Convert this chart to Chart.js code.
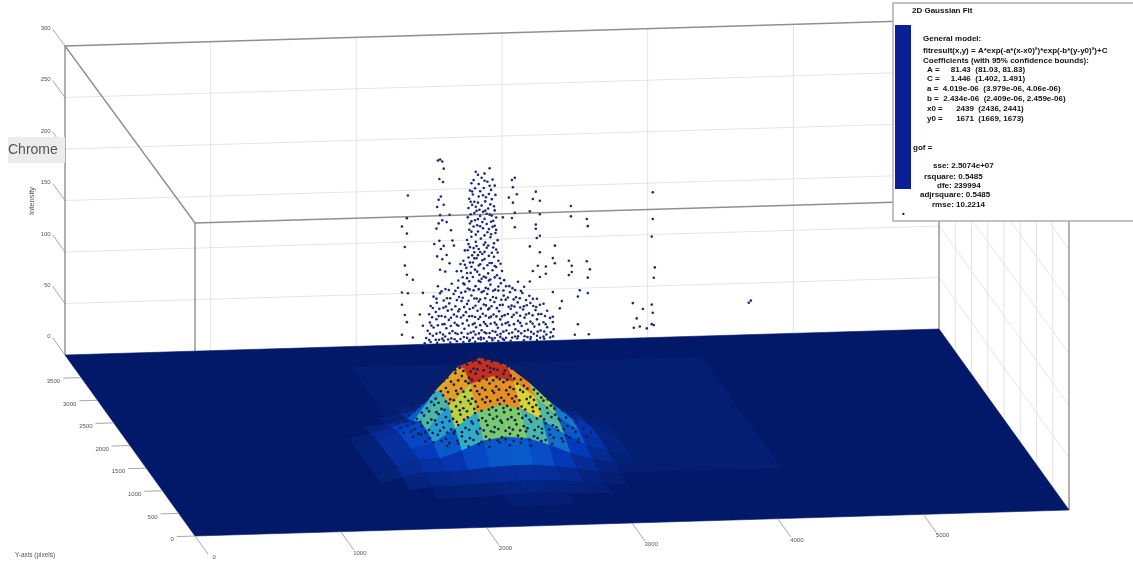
<!DOCTYPE html>
<html>
<head>
<meta charset="utf-8">
<title>2D Gaussian Fit</title>
<script src="https://cdn.jsdelivr.net/npm/chart.js@4"></script>
<style>
    html, body { margin: 0; padding: 0; background: #fff; }
    canvas { display: block; filter: blur(0.6px); }
</style>
</head>
<body>
<canvas id="myChart" width="1133" height="565"></canvas>
<script>
const xTicks = [0, 1000, 2000, 3000, 4000, 5000];
const yTicks = [0, 500, 1000, 1500, 2000, 2500, 3000, 3500];
const zTicks = [0, 50, 100, 150, 200, 250, 300];
const xMax = 6000;
const yMax = 4000;
const zMax = 300;

// raised plate under the fit, [xFrom, xTo, yFrom, yTo]
const plate = [1860, 4270, 1100, 3550];

// fitted surface, rows run from back to front
const surfaceX = [1350, 1500, 1650, 1800, 1950, 2100, 2250, 2400, 2550, 2700, 2850, 3000, 3150, 3300, 3450];
const surfaceY = [3200, 3000, 2800, 2600, 2400, 2200, 2000, 1800, 1600, 1400, 1200, 1000, 800, 600, 400];
const surfaceZ = [
    [1, 1, 1, 1, 1, 1, 1, 1, 1, 1, 1, 1, 1, 1, 1],
    [1, 1, 1, 1, 1, 1, 2, 2, 2, 2, 1, 1, 1, 1, 1],
    [1, 1, 1, 1, 1, 2, 3, 3, 3, 3, 2, 2, 1, 1, 1],
    [1, 1, 1, 1, 2, 4, 7, 9, 9, 7, 4, 3, 2, 1, 1],
    [1, 1, 1, 2, 4, 11, 22, 27, 26, 18, 11, 6, 3, 1, 1],
    [1, 1, 2, 4, 9, 27, 46, 52, 50, 36, 22, 11, 5, 2, 1],
    [1, 1, 5, 10, 16, 44, 66, 74, 68, 52, 33, 17, 7, 3, 1],
    [1, 1, 7, 14, 24, 52, 74, 81, 74, 57, 37, 20, 9, 3, 1],
    [1, 1, 8, 15, 24, 47, 67, 74, 68, 52, 33, 18, 9, 4, 2],
    [1, 1, 8, 15, 20, 34, 49, 55, 51, 39, 25, 14, 7, 3, 2],
    [1, 1, 8, 14, 14, 21, 30, 33, 31, 24, 15, 9, 5, 2, 1],
    [1, 1, 6, 10, 10, 11, 13, 14, 14, 12, 9, 5, 3, 2, 1],
    [1, 1, 3, 5, 5, 6, 7, 8, 8, 7, 5, 3, 2, 1, 1],
    [1, 1, 1, 2, 3, 3, 4, 5, 5, 4, 3, 3, 2, 1, 1],
    [1, 1, 1, 1, 1, 2, 2, 2, 2, 2, 1, 1, 1, 1, 1],
];

// data points seen above the floor, [x, intensity] read against the back wall
const cloudPoints = [
    [2820,166],[2915,169],[2790,155],[2860,160],[2900,156],[2935,158],[2780,148],[2815,150],[2875,150],[2925,148],[2950,152],
    [2775,140],[2800,144],[2840,142],[2890,141],[2930,139],[2955,143],[2770,131],[2795,134],[2825,128],[2860,133],[2905,130],[2945,132],
    [2765,122],[2785,125],[2815,119],[2850,123],[2880,120],[2915,124],[2940,118],[2960,121],[2775,110],[2805,113],[2835,108],[2870,111],
    [2900,107],[2935,112],[2955,106],[2760,100],[2790,103],[2820,98],[2855,101],[2885,97],[2920,102],[2945,96],[2970,99],[2745,90],
    [2780,93],[2810,88],[2840,91],[2865,86],[2895,92],[2930,87],[2960,90],[2735,80],[2770,83],[2800,78],[2825,82],[2850,76],[2880,81],
    [2915,77],[2945,83],[2975,79],[2720,70],[2755,73],[2785,68],[2815,71],[2845,66],[2875,72],[2905,67],[2935,70],[2965,65],[3000,69],
    [2790,118],[2830,114],[2870,127],[2895,115],[2810,137],[2850,147],[2885,137],[2925,117],[2770,96],[2805,92],[2835,85],[2875,95],
    [2910,84],[2950,74],[2790,74],[2830,69],[2860,62],[2890,63],[2920,61],[2760,63],[2730,64],[2985,62],[3015,60],[2700,61],
    [2560,56],[2612,53],[2655,58],[2698,54],[2742,57],[2778,52],[2818,55],[2852,59],[2888,53],[2921,56],[2953,51],[2992,57],[3028,54],
    [3072,52],[3110,58],[3152,53],[2530,46],[2575,49],[2622,44],[2668,48],[2705,45],[2748,50],[2790,46],[2826,43],[2861,49],[2899,47],
    [2938,44],[2975,50],[3012,45],[3055,48],[3096,43],[3140,47],[3188,44],[3240,41],[2510,37],[2552,40],[2598,35],[2638,39],[2680,36],
    [2722,41],[2760,38],[2802,34],[2840,40],[2875,37],[2912,33],[2948,39],[2986,36],[3025,41],[3066,35],[3108,38],[3150,34],[3195,37],
    [3235,33],[3285,36],[2500,29],[2545,31],[2585,27],[2628,32],[2670,28],[2708,33],[2752,30],[2795,26],[2832,31],[2868,28],[2905,32],
    [2942,27],[2980,30],[3018,26],[3060,32],[3100,28],[3145,31],[3185,27],[3230,30],[3270,26],[3310,29],[2505,21],[2550,24],[2592,19],
    [2635,23],[2675,20],[2718,25],[2760,22],[2800,18],[2838,23],[2875,20],[2912,24],[2950,19],[2988,22],[3025,18],[3068,24],[3110,20],
    [3155,23],[3195,19],[3240,21],[3285,18],[3330,22],[2490,13],[2530,16],[2575,11],[2618,15],[2660,12],[2700,17],[2742,14],[2785,10],
    [2822,15],[2860,12],[2898,16],[2935,11],[2972,14],[3010,10],[3050,16],[3092,12],[3135,15],[3178,11],[3222,14],[3265,10],[3310,13],
    [3355,11],[2480,6],[2525,8],[2568,4],[2610,7],[2652,5],[2695,9],[2738,6],[2780,3],[2818,8],[2855,5],[2892,9],[2930,4],[2968,7],
    [3005,3],[3048,8],[3090,5],[3132,8],[3175,4],[3218,7],[3262,3],[3305,6],[3350,4],[2470,1],[2510,2],[2555,1],[2600,3],[2645,1],
    [2690,2],[2735,1],[2775,2],[2815,1],[2855,3],[2895,1],[2935,2],[2975,1],[3015,2],[3060,1],[3105,3],[3150,1],[3195,2],[3240,1],[3290,2],
    [2560,178],[2575,179],[2590,177],[2600,170],[2570,160],[2595,157],[2565,140],[2580,143],[2600,135],[2555,133],[2575,125],[2565,117],
    [2590,120],[2550,112],[2570,100],[2535,97],[2580,92],[2600,95],[2555,85],[2590,82],[2620,86],[2575,72],[2610,70],[2640,78],[2660,100],
    [2650,110],[2670,95],[2640,125],[2620,118],[2354,145],[2347,123],[2313,115],[2347,108],[2333,95],[2333,77],[2347,68],[2388,63],
    [2313,51],[2354,50],[2313,39],[2333,29],[2347,22],[2313,10],[2388,7],[2457,50],[2436,29],[2457,18],[3088,159],[3068,157],[3075,150],
    [3102,143],[3047,140],[3075,135],[3088,125],[3006,121],[3068,120],[3088,111],[3232,145],[3212,138],[3260,136],[3191,126],[3260,123],
    [3232,113],[3232,109],[3260,102],[3239,100],[3363,92],[3191,92],[3260,86],[3349,80],[3363,75],[3246,73],[3301,72],[3212,68],[3301,65],
    [3260,62],[3191,58],[3349,47],[3411,38],[3397,31],[3349,23],[3349,18],[3473,130],[3473,120],[3582,117],[3589,110],[3459,77],[3479,72],
    [3479,66],[3459,63],[3582,76],[3603,68],[3589,60],[3534,48],[3521,42],[3589,45],[3521,15],[3596,5],[3500,5],[4035,141],[4035,115],
    [4028,98],[4049,68],[4042,58],[3898,34],[3967,28],[4028,32],[4035,24],[3925,19],[3905,10],[3946,11],[3994,9],[4028,13],[4042,12],
    [4694,31],[4708,33],
];

// second reading of the same cloud, where the dots pile up
const cloudPointsDense = [
    [2835,163],[2880,164],[2805,158],[2840,154],[2880,157],[2915,152],[2795,147],[2835,136],[2870,143],[2910,144],[2785,137],[2820,132],
    [2845,129],[2885,128],[2920,134],[2950,128],[2780,116],[2810,126],[2835,120],[2865,117],[2895,125],[2930,123],[2950,113],[2790,108],
    [2820,105],[2850,113],[2880,104],[2910,110],[2925,105],[2960,109],[2765,90],[2795,85],[2825,94],[2850,88],[2880,88],[2905,94],[2940,92],
    [2970,87],[2745,76],[2780,78],[2810,82],[2840,75],[2865,80],[2900,75],[2930,77],[2960,73],[2990,76],[2715,77],[2690,70],[2760,68],
    [2800,64],[2840,60],[2875,64],[2910,60],[2950,63],[2775,60],[2735,58],
    [2585,51],[2635,52],[2680,51],[2720,49],[2765,53],[2805,51],[2840,52],[2875,50],[2905,52],[2940,50],[2975,54],[3010,50],[3050,54],[3090,50],[3130,49],
    [2550,44],[2600,42],[2645,44],[2690,42],[2730,44],[2770,41],[2810,43],[2850,42],[2885,43],[2920,41],[2960,43],[2995,41],[3040,43],[3080,41],[3122,42],[3165,40],[3212,41],
    [2525,35],[2570,34],[2615,36],[2655,33],[2700,31],[2740,35],[2778,33],[2818,36],[2855,33],[2890,36],[2928,35],[2965,33],[3005,36],[3045,34],[3085,34],[3125,33],[3170,35],[3215,34],[3260,35],
    [2520,26],[2565,27],[2610,26],[2650,25],[2690,26],[2735,27],[2775,26],[2815,25],[2850,25],[2888,26],[2925,25],[2962,25],[3000,25],[3040,27],[3080,26],[3125,25],[3165,26],[3210,25],[3250,26],[3295,24],
    [2515,18],[2560,18],[2605,19],[2648,17],[2690,18],[2730,19],[2772,17],[2812,19],[2850,17],[2886,18],[2922,18],[2962,17],[3000,17],[3040,19],[3082,17],[3125,18],[3168,17],[3210,17],[3255,16],[3300,16],
    [2505,10],[2550,10],[2595,9],[2640,10],[2680,10],[2722,10],[2765,9],[2805,11],[2842,9],[2880,10],[2915,9],[2955,10],[2990,8],[3030,11],[3070,9],[3112,10],[3155,10],[3200,9],[3245,9],[3290,9],[3335,8],
    [2500,4],[2545,4],[2590,5],[2630,4],[2675,4],[2715,4],[2760,5],[2800,5],[2838,4],[2875,4],[2912,5],[2950,4],[2988,5],[3028,4],[3070,4],[3110,5],[3155,5],[3198,4],[3240,5],[3285,4],[3330,3],
];

// dark points lying over the fitted hump, [x, intensity] read at y = 1671
const humpPoints = [
    [2215,88],[2260,90],[2300,87],[2345,91],[2390,88],[2430,90],[2470,87],[2135,82],[2190,80],[2240,83],[2285,79],[2330,84],[2380,81],
    [2425,78],[2475,83],[2520,80],[2570,82],[2620,79],[2660,81],[2060,73],[2105,71],[2160,75],[2205,72],[2255,70],[2300,74],[2350,71],
    [2400,75],[2445,70],[2490,73],[2540,71],[2590,74],[2635,70],[2680,73],[2730,71],[1995,62],[2045,65],[2095,61],[2150,64],[2200,60],
    [2250,65],[2295,62],[2345,60],[2395,64],[2440,61],[2490,65],[2535,60],[2585,63],[2630,61],[2675,65],[2725,60],[2770,63],[2805,61],
    [1925,52],[1975,55],[2025,51],[2075,54],[2125,50],[2175,55],[2225,52],[2275,50],[2325,54],[2375,51],[2425,55],[2475,50],[2525,53],
    [2575,51],[2625,55],[2675,50],[2725,53],[2775,51],[2825,55],[2870,52],[1865,44],[1915,46],[1965,42],[2015,45],[2065,41],[2115,46],
    [2165,43],[2215,41],[2265,45],[2315,42],[2365,46],[2415,41],[2465,44],[2515,42],[2565,46],[2615,41],[2665,44],[2715,42],[2765,46],
    [2815,41],[2865,44],[2945,42],[1795,34],[1845,36],[1895,32],[1945,35],[1995,31],[2045,36],[2095,33],[2145,31],[2195,35],[2245,32],
    [2295,36],[2345,31],[2395,34],[2445,32],[2495,36],[2545,31],[2595,34],[2645,32],[2695,36],[2745,31],[2795,34],[2845,32],[2895,36],
    [2960,31],[3020,33],[1780,24],[1830,26],[1880,22],[1930,25],[1980,21],[2030,26],[2080,23],[2130,21],[2180,25],[2230,22],[2280,26],
    [2330,21],[2380,24],[2430,22],[2480,26],[2530,21],[2580,24],[2630,22],[2680,26],[2730,21],[2780,24],[2830,22],[2880,26],[2930,21],
    [2990,24],[3075,23],[1870,15],[1925,17],[1985,13],[2040,16],[2095,12],[2150,17],[2205,14],[2260,12],[2315,16],[2370,13],[2425,17],
    [2480,12],[2535,15],[2590,13],[2645,17],[2700,12],[2755,15],[2810,13],[2865,17],[2920,12],[2985,15],[3090,14],[2105,5],[2180,7],
    [2250,4],[2320,6],[2395,3],[2465,7],[2535,4],[2610,6],[2680,3],[2750,7],[2825,4],[2900,6],[3005,5],
    [2235,86],[2280,86],[2322,85],[2368,87],[2410,85],[2450,86],[2110,77],[2160,78],[2215,77],[2265,76],[2310,78],[2355,77],[2400,79],
    [2450,77],[2500,76],[2545,78],[2595,77],[2645,76],[2695,77],[2030,67],[2080,68],[2130,67],[2180,68],[2230,67],[2275,68],[2325,67],
    [2375,68],[2420,67],[2465,68],[2515,67],[2565,68],[2610,67],[2655,68],[2705,67],[2755,68],[1960,58],[2010,57],[2060,58],[2110,57],
    [2165,58],[2215,57],[2265,58],[2310,57],[2365,58],[2415,57],[2460,58],[2510,57],[2560,58],[2605,57],[2655,58],[2700,57],[2750,58],
    [2795,56],[2840,57],[1890,48],[1945,49],[1995,48],[2045,47],[2095,48],[2150,49],[2195,47],[2250,48],[2300,47],[2345,49],[2400,47],
    [2450,48],[2495,47],[2550,49],[2600,47],[2650,48],[2700,47],[2750,49],[2795,47],[2850,48],[2905,47],[1825,39],[1880,40],[1930,38],
    [1980,39],[2030,38],[2085,40],[2135,38],[2190,39],[2240,38],[2290,40],[2340,38],[2390,39],[2440,38],[2490,40],[2540,38],[2590,39],
    [2640,38],[2690,40],[2740,38],[2790,39],[2840,38],[2890,40],[2935,38],[2985,39],[1770,29],[1820,30],[1870,28],[1920,29],[1970,28],
    [2020,30],[2070,28],[2120,29],[2170,28],[2220,30],[2270,28],[2320,29],[2370,28],[2420,30],[2470,28],[2520,29],[2570,28],[2620,30],
    [2670,28],[2720,29],[2770,28],[2820,30],[2870,28],[2920,29],[2985,28],[3050,29],[1805,19],[1855,20],[1905,18],[1955,19],[2005,18],
    [2055,20],[2105,18],[2155,19],[2205,18],[2255,20],[2305,18],[2355,19],[2405,18],[2455,20],[2505,18],[2555,19],[2605,18],[2655,20],
    [2705,18],[2755,19],[2805,18],[2855,20],[2905,18],[2965,19],[3040,18],[1955,10],[2010,9],[2065,10],[2120,8],[2175,10],[2230,9],
    [2285,10],[2340,8],[2395,10],[2450,9],[2505,10],[2560,8],[2615,10],[2670,9],[2725,10],[2780,8],[2835,10],[2890,9],[2945,10],[3005,8],[3060,10],
];

const fitLines = [
    "General model:",
    "fitresult(x,y) = A*exp(-a*(x-x0)²)*exp(-b*(y-y0)²)+C",
    "Coefficients (with 95% confidence bounds):",
    "A =     81.43  (81.03, 81.83)",
    "C =     1.446  (1.402, 1.491)",
    "a =  4.019e-06  (3.979e-06, 4.06e-06)",
    "b =  2.434e-06  (2.409e-06, 2.459e-06)",
    "x0 =      2439  (2436, 2441)",
    "y0 =      1671  (1669, 1673)",
];
const gofLines = ["sse: 2.5074e+07", "rsquare: 0.5485", "dfe: 239994", "adjrsquare: 0.5485", "rmse: 10.2214"];

const FONT = '"Liberation Sans", Arial, sans-serif';
const GRID = "#e4e4e4";
const BOX = "#8f8f8f";

// the camera of the original figure is close to parallel, so one set of vectors does it
function project(x, y, z) {
    return {
        x: 195 + (x * 874) / xMax - (y * 130) / yMax,
        y: 536 - (x * 26) / xMax - (y * 181) / yMax - (z * (313 - (y * 4) / yMax)) / zMax,
    };
}

function surfaceColor(z) {
    const stops = [
        [0, 2, 24, 104], [3, 4, 30, 114], [6, 5, 36, 128], [10, 6, 44, 150], [16, 4, 58, 190], [24, 10, 95, 205], [33, 45, 170, 205],
        [43, 130, 205, 100], [53, 225, 210, 45], [63, 230, 135, 30], [72, 210, 52, 30], [82, 150, 24, 36],
    ];
    for (let i = 1; i < stops.length; i++) {
        if (z <= stops[i][0]) {
            const a = stops[i - 1];
            const b = stops[i];
            const t = (z - a[0]) / (b[0] - a[0]);
            return `rgb(${Math.round(a[1] + t * (b[1] - a[1]))}, ${Math.round(a[2] + t * (b[2] - a[2]))}, ${Math.round(a[3] + t * (b[3] - a[3]))})`;
        }
    }
    return "rgb(150, 24, 36)";
}

function lineSet(points, color, width) {
    return {
        type: "scatter",
        data: points.map((p) => project(p[0], p[1], p[2])),
        showLine: true,
        fill: false,
        borderColor: color,
        borderWidth: width,
        pointRadius: 0,
        tension: 0,
    };
}

function shapeSet(points, color) {
    const data = points.map((p) => project(p[0], p[1], p[2]));
    data.push(data[0]);
    return {
        type: "scatter",
        data: data,
        showLine: true,
        fill: "shape",
        backgroundColor: color,
        borderColor: color,
        borderWidth: 0.6,
        pointRadius: 0,
        tension: 0,
    };
}

function dotSet(points, y, color, radius) {
    return {
        type: "scatter",
        data: points.map((p) => project(p[0], y, p[1])),
        showLine: false,
        backgroundColor: color,
        borderWidth: 0,
        pointRadius: radius,
    };
}

function buildDatasets() {
    const sets = [];

    // walls
    zTicks.slice(1, -1).forEach((z) => {
        sets.push(lineSet([[0, yMax, z], [xMax, yMax, z]], GRID, 1));
        sets.push(lineSet([[xMax, yMax, z], [xMax, 0, z]], GRID, 1));
    });
    xTicks.slice(1).forEach((x) => sets.push(lineSet([[x, yMax, 0], [x, yMax, zMax]], GRID, 1)));
    yTicks.slice(1).forEach((y) => sets.push(lineSet([[xMax, y, 0], [xMax, y, zMax]], GRID, 1)));

    // box
    sets.push(lineSet([[0, yMax, 0], [0, yMax, zMax], [xMax, yMax, zMax], [xMax, yMax, 0]], BOX, 1.4));
    sets.push(lineSet([[0, yMax, zMax], [0, 0, zMax], [xMax, 0, zMax], [xMax, 0, 0]], BOX, 1.4));
    sets.push(lineSet([[0, 0, 0], [0, 0, zMax]], BOX, 1.4));

    // floor and raised plate
    sets.push(shapeSet([[0, 0, 0], [xMax, 0, 0], [xMax, yMax, 0], [0, yMax, 0]], surfaceColor(0)));
    sets.push(shapeSet([[plate[0], plate[2], 0], [plate[1], plate[2], 0], [plate[1], plate[3], 0], [plate[0], plate[3], 0]], surfaceColor(3)));

    // surface, back rows first so the front covers them; flat cells stay plate
    for (let r = 0; r < surfaceY.length - 1; r++) {
        for (let c = 0; c < surfaceX.length - 1; c++) {
            const mean = (surfaceZ[r][c] + surfaceZ[r][c + 1] + surfaceZ[r + 1][c] + surfaceZ[r + 1][c + 1]) / 4;
            if (mean <= 3) continue;
            sets.push(shapeSet([
                [surfaceX[c], surfaceY[r], surfaceZ[r][c]],
                [surfaceX[c + 1], surfaceY[r], surfaceZ[r][c + 1]],
                [surfaceX[c + 1], surfaceY[r + 1], surfaceZ[r + 1][c + 1]],
                [surfaceX[c], surfaceY[r + 1], surfaceZ[r + 1][c]],
            ], surfaceColor(mean)));
        }
    }

    // ticks
    xTicks.forEach((x) => sets.push(lineSet([[x, 0, 0], [x, -400, 0]], BOX, 0.8)));
    yTicks.forEach((y) => sets.push(lineSet([[0, y, 0], [-125, y, 0]], BOX, 0.8)));
    zTicks.forEach((z) => sets.push(lineSet([[0, yMax, z], [0, yMax + 380, z]], BOX, 0.8)));

    sets.push(dotSet(humpPoints, 1671, "#12204f", 1.35));
    sets.push(dotSet(cloudPoints, yMax, "#1c2a78", 1.3));
    sets.push(dotSet(cloudPointsDense, yMax, "#1c2a78", 1.3));

    // chart.js paints the first dataset last
    return sets.reverse();
}

const textPlugin = {
    id: "sceneText",
    afterDraw(chart) {
        const ctx = chart.ctx;
        const sx = chart.scales.x;
        const sy = chart.scales.y;
        const at = (p) => ({ x: sx.getPixelForValue(p.x), y: sy.getPixelForValue(p.y) });

        ctx.save();
        ctx.textBaseline = "middle";
        ctx.fillStyle = "#555";
        ctx.font = `6px ${FONT}`;

        ctx.textAlign = "center";
        xTicks.forEach((x) => {
            const p = at(project(x, -560, 0));
            ctx.fillText(String(x), p.x + 1, p.y - 4);
        });
        ctx.textAlign = "right";
        yTicks.forEach((y) => {
            const p = at(project(-145, y, 0));
            ctx.fillText(String(y), p.x, p.y + 3);
        });
        zTicks.forEach((z) => {
            const p = at(project(0, yMax + 380, z));
            ctx.fillText(String(z), p.x - 2, p.y - 1);
        });

        ctx.textAlign = "left";
        ctx.font = `6.5px ${FONT}`;
        ctx.fillText("Y-axis (pixels)", 15, 555);

        ctx.save();
        ctx.translate(32, 201);
        ctx.rotate(-Math.PI / 2);
        ctx.textAlign = "center";
        ctx.font = `7.5px ${FONT}`;
        ctx.fillText("Intensity", 0, 0);
        ctx.restore();

        // browser tab tooltip caught in the screenshot
        ctx.fillStyle = "#ececec";
        ctx.fillRect(8, 137, 57, 26);
        ctx.fillStyle = "#555";
        ctx.font = `14px ${FONT}`;
        ctx.fillText("Chrome", 8, 150);

        // fit results window
        ctx.fillStyle = "#fff";
        ctx.fillRect(893, 3, 240, 218);
        ctx.strokeStyle = "#a8a8a8";
        ctx.lineWidth = 1.4;
        ctx.strokeRect(893, 3, 242, 218);
        ctx.fillStyle = "#0a1f96";
        ctx.fillRect(895, 25, 16, 164);
        ctx.fillStyle = "#111";
        ctx.font = `bold 8px ${FONT}`;
        ctx.fillText("2D Gaussian Fit", 912, 11);
        ctx.fillText("gof =", 913, 148);
        ctx.fillText("•", 902, 214);
        const fitX = [923, 923, 923, 927, 927, 927, 927, 927, 927];
        const fitY = [39, 51, 61, 70, 79, 89, 99, 109, 119];
        fitLines.forEach((line, i) => ctx.fillText(line, fitX[i], fitY[i]));
        const gofX = [933, 924, 937, 920, 932];
        const gofY = [166, 177, 186, 195, 205];
        gofLines.forEach((line, i) => ctx.fillText(line, gofX[i], gofY[i]));
        ctx.restore();
    },
};

const config = {
    data: { datasets: buildDatasets() },
    options: {
        responsive: false,
        animation: false,
        events: [],
        layout: { padding: 0, autoPadding: false },
        plugins: { legend: { display: false }, tooltip: { enabled: false } },
        scales: {
            x: { type: "linear", min: 0, max: 1133, display: false },
            y: { type: "linear", min: 0, max: 565, reverse: true, display: false },
        },
    },
    plugins: [textPlugin],
};

const myChart = new Chart(document.getElementById("myChart"), config);
</script>
</body>
</html>
